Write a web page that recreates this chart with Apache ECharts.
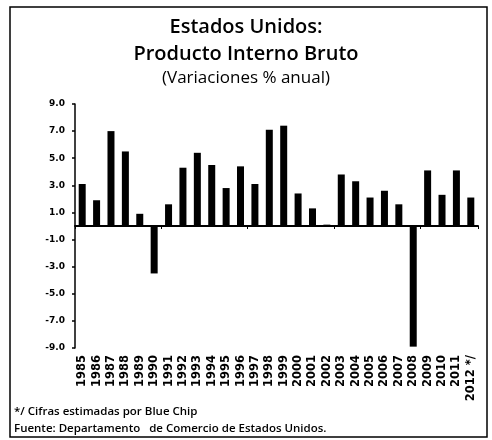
<!DOCTYPE html>
<html>
<head>
<meta charset="utf-8">
<script src="https://cdn.jsdelivr.net/npm/echarts@6/dist/echarts.min.js"></script>
<style>
html,body{margin:0;padding:0;background:#fff;}
#pib{width:492px;height:440px;}
</style>
</head>
<body>
<div id="pib"></div>
<script>
var years = ['1985','1986','1987','1988','1989','1990','1991','1992','1993','1994',
    '1995','1996','1997','1998','1999','2000','2001','2002','2003','2004',
    '2005','2006','2007','2008','2009','2010','2011','2012 */'];
var pibVar = [3.1, 1.9, 7.0, 5.5, 0.9, -3.5, 1.6, 4.3, 5.4, 4.5,
    2.8, 4.4, 3.1, 7.1, 7.4, 2.4, 1.3, 0.1, 3.8, 3.3,
    2.1, 2.6, 1.6, -8.9, 4.1, 2.3, 4.1, 2.1];
var yMin = -9, yMax = 9, yStep = 2;

function initPib(){
    var option = {
        animation: false,
        title: [
            {
                text: 'Estados Unidos:\nProducto Interno Bruto',
                left: 'center',
                top: 9,
                textStyle: {
                    fontFamily: 'Open Sans',
                    fontSize: 20,
                    fontWeight: 600,
                    color: '#000',
                    lineHeight: 27
                }
            },
            {
                text: '(Variaciones % anual)',
                left: 'center',
                top: 65,
                textStyle: {
                    fontFamily: 'Open Sans',
                    fontSize: 17,
                    fontWeight: 'normal',
                    color: '#000'
                }
            },
            {
                text: '*/ Cifras estimadas por Blue Chip\nFuente: Departamento   de Comercio de Estados Unidos.',
                left: 9,
                top: 398,
                textStyle: {
                    fontFamily: 'Open Sans',
                    fontSize: 11.5,
                    fontWeight: 600,
                    color: '#000',
                    lineHeight: 17
                }
            }
        ],
        graphic: [{
            type: 'rect',
            shape: {x: 10, y: 7, width: 477, height: 430},
            style: {fill: 'none', stroke: '#000', lineWidth: 1.5},
            silent: true
        }],
        grid: {
            left: 75,
            right: 14,
            top: 104,
            bottom: 92,
            containLabel: false
        },
        xAxis: [
            {
                type: 'category',
                data: years,
                position: 'bottom',
                axisLine: {show: false, onZero: false},
                axisTick: {show: false},
                axisLabel: {
                    rotate: 90,
                    interval: 0,
                    margin: 7,
                    color: '#000',
                    fontFamily: 'DejaVu Sans',
                    fontWeight: 'bold',
                    fontSize: 11.5
                },
                splitLine: {show: false}
            },
            {
                type: 'category',
                data: years,
                position: 'bottom',
                axisLine: {
                    show: true,
                    onZero: true,
                    lineStyle: {color: '#000', width: 2}
                },
                axisTick: {
                    show: true,
                    interval: 5,
                    length: 3,
                    lineStyle: {color: '#000', width: 1}
                },
                axisLabel: {show: false},
                splitLine: {show: false}
            }
        ],
        yAxis: {
            type: 'value',
            min: yMin,
            max: yMax,
            interval: yStep,
            axisLine: {show: true, lineStyle: {color: '#000', width: 1.5}},
            axisTick: {show: true, length: 3, lineStyle: {color: '#000', width: 1.5}},
            splitLine: {show: false},
            axisLabel: {
                margin: 10,
                color: '#000',
                fontFamily: 'DejaVu Sans',
                fontWeight: 'bold',
                fontSize: 9,
                formatter: function(v){ return v.toFixed(1); }
            }
        },
        series: [{
            name: 'PIB',
            type: 'bar',
            xAxisIndex: 0,
            barWidth: 7,
            itemStyle: {color: '#000'},
            data: pibVar
        }]
    };
    var dom = document.getElementById('pib');
    var chart = echarts.init(dom);
    chart.setOption(option, true);
}
initPib();
</script>
</body>
</html>
